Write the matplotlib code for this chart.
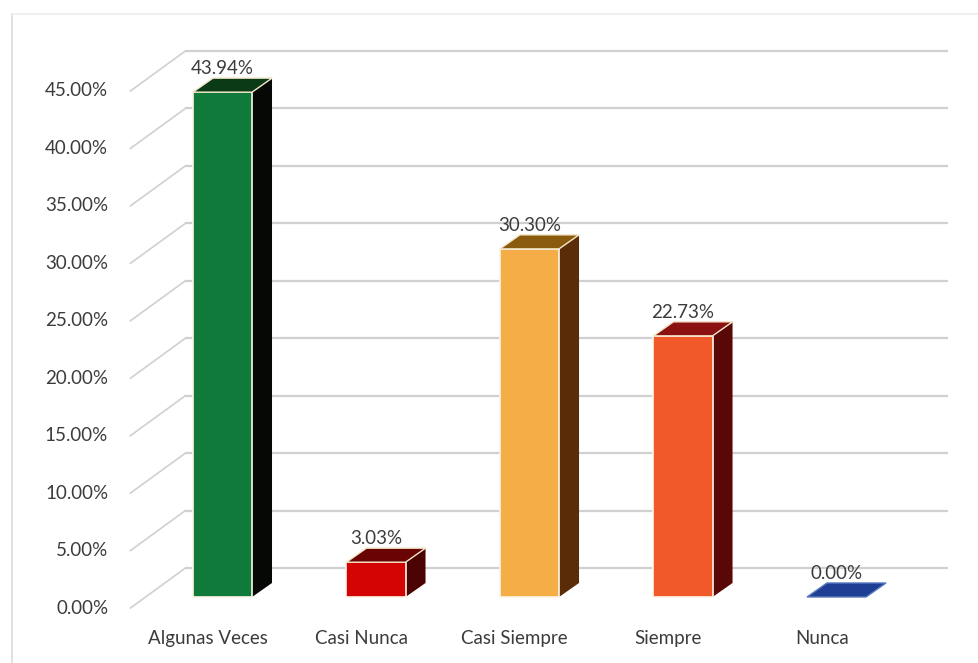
"""Excel-style 3D column chart: frequency of responses."""

import matplotlib
matplotlib.use("Agg")
import matplotlib.pyplot as plt
from matplotlib.patches import Rectangle, Polygon
from matplotlib.lines import Line2D

# data
categories = ["Algunas Veces", "Casi Nunca", "Casi Siempre", "Siempre", "Nunca"]
values = [43.94, 3.03, 30.30, 22.73, 0.00]
value_labels = ["43.94%", "3.03%", "30.30%", "22.73%", "0.00%"]
ticks = [0, 5, 10, 15, 20, 25, 30, 35, 40, 45]
tick_labels = ["0.00%", "5.00%", "10.00%", "15.00%", "20.00%",
               "25.00%", "30.00%", "35.00%", "40.00%", "45.00%"]

# colours: front, side, top
front_cols = ["#0f7a3a", "#d40404", "#f4ad47", "#f1592a", "#1f3f95"]
side_cols = ["#050805", "#4a0202", "#5a2c08", "#5a0707", "#1f3f95"]
top_cols = ["#0b3a16", "#6a0303", "#8a5a0e", "#8c1212", "#1f3f95"]

# 3D look (in data units: x = category slots, y = percent)
W = 0.385            # bar width
DX, DY = 0.13, 1.22  # bar depth
AXIS_X = -0.60       # front axis line
AX_DY = -0.96        # front axis plane sits below bar plane
WALL_DX, WALL_DY = 0.358, 2.52
WALL_RIGHT = 4.726
GRID = "#d0d0d0"
TXT = "#3c3c3c"
FONT = "Lato"
FS = 13.5

fig = plt.figure(figsize=(9.79, 6.63), dpi=100)
ax = fig.add_axes([0, 0, 1, 1])
ax.set_xlim(-1.4495, 4.928)
ax.set_ylim(-5.744, 51.96)
ax.axis("off")

# chart border
fig.add_artist(Line2D([12 / 979, 12 / 979], [0, 1 - 14 / 663], color="#dcdcdc", lw=1.2))
fig.add_artist(Line2D([12 / 979, 1], [1 - 14 / 663, 1 - 14 / 663], color="#ececec", lw=1.2))

# back wall gridlines, side-wall diagonals and tick labels
for t, lab in zip(ticks, tick_labels):
    ax.plot([AXIS_X + WALL_DX, WALL_RIGHT], [t + WALL_DY, t + WALL_DY],
            color=GRID, lw=1.6, zorder=1, solid_capstyle="butt")
    ax.plot([AXIS_X, AXIS_X + WALL_DX], [t + AX_DY, t + WALL_DY],
            color=GRID, lw=1.2, zorder=1)
    ax.text(AXIS_X - 0.145, t + AX_DY, lab, ha="right", va="center",
            fontsize=FS, color=TXT, family=FONT)

# bars
for i, (v, lab) in enumerate(zip(values, value_labels)):
    x0 = i - W / 2
    x1 = i + W / 2
    if v > 0:
        ax.add_patch(Polygon([(x1, 0), (x1 + DX, DY), (x1 + DX, v + DY), (x1, v)],
                             closed=True, fc=side_cols[i], ec="none", zorder=3))
        ax.add_patch(Rectangle((x0, 0), W, v, fc=front_cols[i], ec="#fff6e8",
                               lw=1.2, zorder=4))
    ax.add_patch(Polygon([(x0, v), (x1, v), (x1 + DX, v + DY), (x0 + DX, v + DY)],
                         closed=True, fc=top_cols[i],
                         ec="#f2e6c8" if v > 0 else "#5a7ac0", lw=1.0, zorder=4))
    ax.text(i, v + DY + 0.1, lab, ha="center", va="bottom",
            fontsize=FS, color=TXT, family=FONT, zorder=5)
    ax.text(i - 0.096, -3.57, categories[i], ha="center", va="center",
            fontsize=FS, color=TXT, family=FONT)

fig.savefig("out.png", dpi=100, facecolor="white")
